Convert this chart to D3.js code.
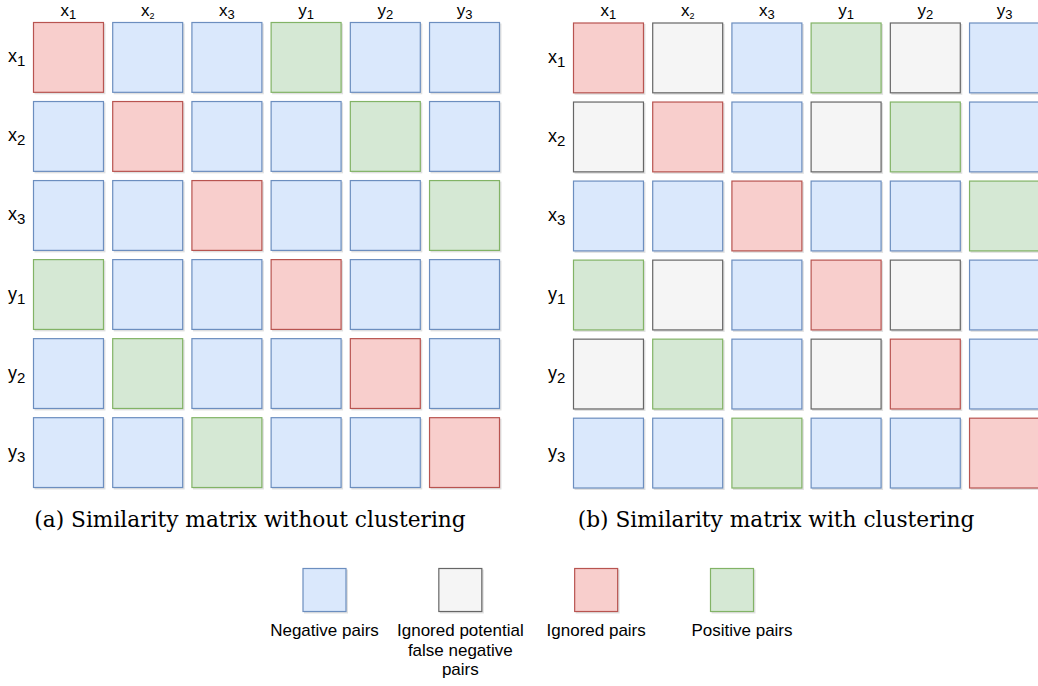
<!DOCTYPE html>
<html>
<head>
<meta charset="utf-8">
<script src="https://cdn.jsdelivr.net/npm/d3@7"></script>
<style>
  body { margin: 0; background: #fff; }
  svg { display: block; }
  .lbl { font-family: "Liberation Sans", Arial, sans-serif; fill: #000; }
  .cap { font-family: "DejaVu Serif", serif; fill: #000; }
</style>
</head>
<body>
<svg id="chart" width="1038" height="686"></svg>
<script>
// labels of rows and columns (letter + subscript)
var labels = [
  {base: "x", sub: "1"}, {base: "x", sub: "2"}, {base: "x", sub: "3"},
  {base: "y", sub: "1"}, {base: "y", sub: "2"}, {base: "y", sub: "3"}
];

// N = negative, F = ignored potential false negative, I = ignored, P = positive
var matrixNoCluster = [
  "INNPNN",
  "NINNPN",
  "NNINNP",
  "PNNINN",
  "NPNNIN",
  "NNPNNI"
];
var matrixCluster = [
  "IFNPFN",
  "FINFPN",
  "NNINNP",
  "PFNIFN",
  "FPNFIN",
  "NNPNNI"
];

var captions = ["(a) Similarity matrix without clustering", "(b) Similarity matrix with clustering"];

var legendKeys = ["N", "F", "I", "P"];
var legendText = [["Negative pairs"], ["Ignored potential", "false negative", "pairs"], ["Ignored pairs"], ["Positive pairs"]];

var fills   = {N: "#dae8fc", F: "#f5f5f5", I: "#f8cecc", P: "#d5e8d4"};
var strokes = {N: "#6c8ebf", F: "#666666", I: "#b85450", P: "#82b366"};

var svg = d3.select("#chart");
var idx = d3.range(labels.length);

function drawMatrix(grid, x0, y0, x1, y1, labelX, caption, capX) {
  var g = svg.append("g");
  var x = d3.scaleBand().domain(idx).range([x0, x1]).paddingInner(0.104).paddingOuter(0);
  var y = d3.scaleBand().domain(idx).range([y0, y1]).paddingInner(0.104).paddingOuter(0);

  var cells = [];
  grid.forEach(function(row, r) {
    row.split("").forEach(function(t, c) { cells.push({r: r, c: c, t: t}); });
  });

  // faint drop shadow
  g.selectAll("rect.sh").data(cells).enter().append("rect")
    .attr("class", "sh")
    .attr("x", function(d) { return x(d.c) + 1.5; })
    .attr("y", function(d) { return y(d.r) + 1.5; })
    .attr("width", x.bandwidth())
    .attr("height", y.bandwidth())
    .attr("fill", "#000").attr("opacity", 0.12);

  g.selectAll("rect.cell").data(cells).enter().append("rect")
    .attr("class", "cell")
    .attr("x", function(d) { return x(d.c) + 0.5; })
    .attr("y", function(d) { return y(d.r) + 0.5; })
    .attr("width", x.bandwidth() - 1)
    .attr("height", y.bandwidth() - 1)
    .attr("fill", function(d) { return fills[d.t]; })
    .attr("stroke", function(d) { return strokes[d.t]; })
    .attr("stroke-width", 1.2);

  // column headers
  var head = g.selectAll("text.col").data(labels).enter().append("text")
    .attr("class", "lbl col")
    .attr("x", function(d, i) { return x(i) + x.bandwidth() / 2; })
    .attr("y", 16)
    .attr("text-anchor", "middle")
    .style("font-size", "17px");
  head.append("tspan").text(function(d) { return d.base; });
  head.append("tspan").attr("dy", 3)
    .style("font-size", function(d, i) { return i == 1 ? "9px" : "13px"; })
    .text(function(d) { return d.sub; });

  // row labels
  var rows = g.selectAll("text.row").data(labels).enter().append("text")
    .attr("class", "lbl row")
    .attr("x", labelX)
    .attr("y", function(d, i) { return y(i) + y.bandwidth() / 2 + 5; })
    .style("font-size", "18px");
  rows.append("tspan").text(function(d) { return d.base; });
  rows.append("tspan").attr("dy", 4).style("font-size", "15px").text(function(d) { return d.sub; });

  g.append("text")
    .attr("class", "cap")
    .attr("x", capX)
    .attr("y", 527)
    .attr("text-anchor", "middle")
    .style("font-size", "21.7px")
    .text(caption);
}

drawMatrix(matrixNoCluster, 33, 22, 500, 488, 8, captions[0], 250);
drawMatrix(matrixCluster, 573, 22.5, 1040, 488.5, 548, captions[1], 776);

// legend
var lx = d3.scalePoint().domain(legendKeys).range([324.5, 732]);
var size = 44;
var leg = svg.append("g");
leg.selectAll("rect.sh").data(legendKeys).enter().append("rect")
  .attr("x", function(d) { return lx(d) - size / 2 + 1.5; })
  .attr("y", 569.5)
  .attr("width", size).attr("height", size)
  .attr("fill", "#000").attr("opacity", 0.12);
leg.selectAll("rect.key").data(legendKeys).enter().append("rect")
  .attr("class", "key")
  .attr("x", function(d) { return lx(d) - size / 2 + 0.5; })
  .attr("y", 568.5)
  .attr("width", size - 1).attr("height", size - 1)
  .attr("fill", function(d) { return fills[d]; })
  .attr("stroke", function(d) { return strokes[d]; })
  .attr("stroke-width", 1.2);

var lt = leg.selectAll("text").data(legendKeys).enter().append("text")
  .attr("class", "lbl")
  .attr("text-anchor", "middle")
  .style("font-size", "17px");
lt.selectAll("tspan").data(function(d, i) { return legendText[i].map(function(s) { return {s: s, k: d}; }); })
  .enter().append("tspan")
  .attr("x", function(d) { return lx(d.k) + (d.k == "P" ? 10 : 0); })
  .attr("y", function(d, j) { return 636 + j * 19.5; })
  .text(function(d) { return d.s; });
</script>
</body>
</html>
